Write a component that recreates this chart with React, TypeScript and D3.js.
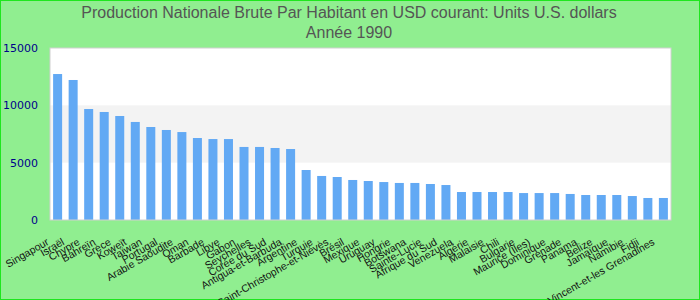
import React from "react";
import * as d3 from "d3";

const countries = [
  "Singapour", "Israël", "Chypre", "Bahreïn", "Grèce", "Koweït", "Taïwan", "Portugal",
  "Arabie Saoudite", "Oman", "Barbade", "Libye", "Gabon", "Seychelles", "Corée du Sud",
  "Antigua-et-Barbuda", "Argentine", "Turquie", "Saint-Christophe-et-Niévès", "Brésil",
  "Mexique", "Uruguay", "Hongrie", "Botswana", "Sainte-Lucie", "Afrique du Sud", "Venezuela",
  "Algérie", "Malaisie", "Chili", "Bulgarie", "Maurice (Îles)", "Dominique", "Grenade",
  "Panama", "Belize", "Jamaïque", "Namibie", "Fidji", "Saint-Vincent-et-les Grenadines",
];
const values = [
  12730, 12210, 9680, 9420, 9070, 8550, 8110, 7850, 7670, 7150, 7060, 7060, 6370, 6370,
  6280, 6190, 4360, 3840, 3750, 3490, 3400, 3310, 3230, 3230, 3140, 3050, 2440, 2440,
  2440, 2440, 2350, 2350, 2350, 2270, 2180, 2180, 2180, 2090, 1920, 1920,
];
const yTicks = [0, 5000, 10000, 15000];
const titleLines = [
  "Production Nationale Brute Par Habitant en USD courant: Units U.S. dollars",
  "Année 1990",
];

const W = 700, H = 300;
const left = 50, right = 671, top = 48, bottom = 220;

export default function App() {
  const x = d3.scaleBand<string>().domain(countries).range([left, right]).paddingInner(0.42).paddingOuter(0.2);
  const y = d3.scaleLinear().domain([0, 15000]).range([bottom, top]);
  return (
    <svg width={W} height={H} style={{ position: "absolute", left: 0, top: 0, display: "block" }}>
      <rect x={0.5} y={0.5} width={W - 1} height={H - 1} fill="#90ee90" stroke="#1ee61e" strokeWidth={1} />
      {titleLines.map((t, i) => (
        <text key={i} x={349} y={18 + i * 20} textAnchor="middle" fontFamily="Liberation Sans, Arial, sans-serif" fontSize={16} fill="#555">{t}</text>
      ))}
      <rect x={left} y={top} width={right - left} height={bottom - top} fill="#fff" />
      <rect x={left} y={y(10000)} width={right - left} height={y(5000) - y(10000)} fill="#f3f3f3" />
      {countries.map((c, i) => (
        <rect key={c} x={x(c)} y={y(values[i])} width={x.bandwidth()} height={y(0) - y(values[i])} fill="#62a9f4" />
      ))}
      <rect x={left} y={top} width={right - left} height={bottom - top} fill="none" stroke="#d0d0d0" strokeWidth={1} />
      {yTicks.map((t) => (
        <text key={t} x={38} y={y(t) + 4} textAnchor="end" fontFamily="DejaVu Sans, sans-serif" fontSize={11} fill="#00008b">{t}</text>
      ))}
      {countries.map((c) => {
        const cx = (x(c) as number) + x.bandwidth() / 2;
        return (
          <text key={c} transform={`translate(${cx - 8},${244}) rotate(-30)`} textAnchor="end" fontFamily="Liberation Sans, Arial, sans-serif" fontSize={10.5} fill="#111">{c}</text>
        );
      })}
    </svg>
  );
}
